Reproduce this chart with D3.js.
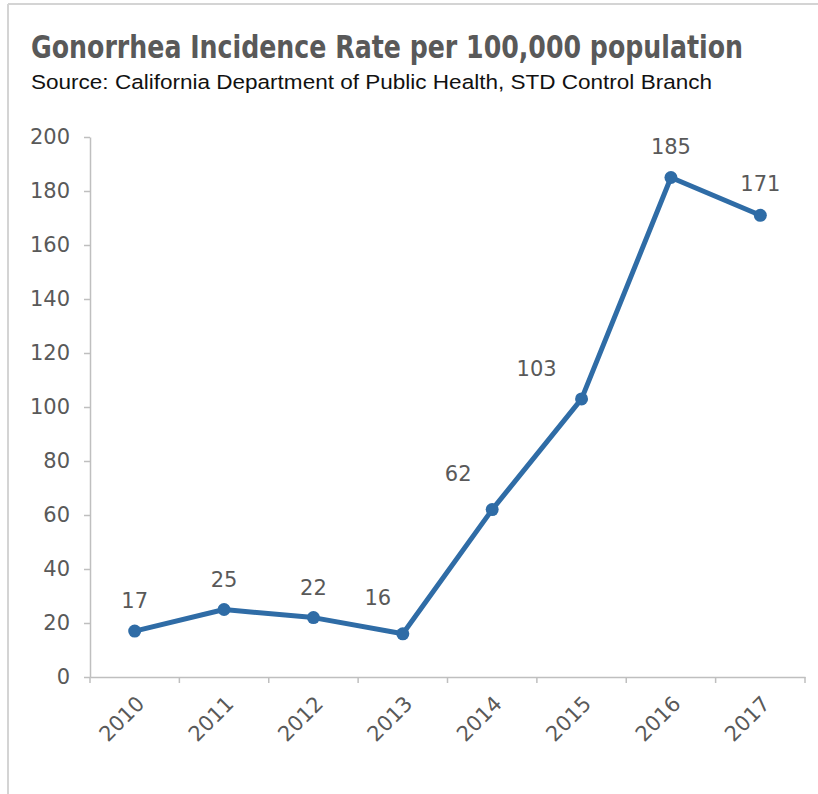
<!DOCTYPE html>
<html lang="en">
  <head>
    <meta charset="utf-8">
    <script type="text/javascript" src="https://d3js.org/d3.v7.min.js"></script>
    <style>
      body { margin: 0; background: white; }
    </style>
  </head>
  <body>
    <script type="text/javascript">

    // Data
    var years = ["2010", "2011", "2012", "2013", "2014", "2015", "2016", "2017"];
    var rates = [17, 25, 22, 16, 62, 103, 185, 171];
    var yTicks = [0, 20, 40, 60, 80, 100, 120, 140, 160, 180, 200];

    // Label nudges (Excel placed some labels to the left of the line)
    var labelDx = [0, 0, 0, -25, -34, -45, 0, 0];
    var labelDy = [-23, -23, -23, -29, -29, -23, -24, -24];

    var svgW = 818, svgH = 794;
    var plotL = 90, plotR = 805, plotT = 137, plotB = 677;
    var axisColor = "#bfbfbf";
    var textColor = "#595959";
    var lineColor = "#2f6ca6";
    var numFont = "'DejaVu Sans', sans-serif";

    var svg = d3.select("body")
                .append("svg")
                  .attr("width", svgW)
                  .attr("height", svgH);

    // Outer frame (left and top only)
    svg.append("line").attr("x1", 8).attr("x2", 8).attr("y1", 4).attr("y2", svgH)
        .attr("stroke", "#d4d4d4").attr("stroke-width", 2);
    svg.append("line").attr("x1", 8).attr("x2", svgW).attr("y1", 4).attr("y2", 4)
        .attr("stroke", "#d4d4d4").attr("stroke-width", 2);

    // Title and source
    svg.append("text")
        .attr("x", 0)
        .attr("y", 0)
        .attr("transform", "translate(31,58) scale(1,1.15)")
        .attr("textLength", 712)
        .attr("lengthAdjust", "spacingAndGlyphs")
        .style("font-family", "'Liberation Sans Narrow', 'DejaVu Sans Condensed', sans-serif")
        .style("font-weight", "bold")
        .style("font-size", "28px")
        .attr("fill", textColor)
        .text("Gonorrhea Incidence Rate per 100,000 population");

    svg.append("text")
        .attr("x", 31)
        .attr("y", 89)
        .attr("textLength", 681)
        .attr("lengthAdjust", "spacingAndGlyphs")
        .style("font-family", "'Liberation Sans', Arial, sans-serif")
        .style("font-size", "20.5px")
        .attr("fill", "#111")
        .text("Source: California Department of Public Health, STD Control Branch");

    // Scales
    var xScale = d3.scaleBand()
                    .domain(years)
                    .range([plotL, plotR]);

    var yScale = d3.scaleLinear()
                    .domain([0, 200])
                    .range([plotB, plotT]);

    // Y axis
    var yAxis = d3.axisLeft(yScale)
                  .tickValues(yTicks)
                  .tickSize(6)
                  .tickPadding(14)
                  .tickSizeOuter(0);
    var gy = svg.append("g")
                .attr("transform", "translate(" + plotL + ",0)")
                .call(yAxis);
    gy.select(".domain").attr("stroke", axisColor).attr("stroke-width", 1.5);
    gy.selectAll(".tick line").attr("stroke", axisColor).attr("stroke-width", 1.5);
    gy.selectAll(".tick text")
        .attr("fill", textColor)
        .style("font-family", numFont)
        .style("font-size", "21px");

    // X axis: labels at band centres, tick marks at band edges
    var xAxis = d3.axisBottom(xScale).tickSize(0).tickSizeOuter(0);
    var gx = svg.append("g")
                .attr("transform", "translate(0," + plotB + ")")
                .call(xAxis);
    gx.select(".domain").attr("stroke", axisColor).attr("stroke-width", 1.5);
    gx.selectAll(".tick text")
        .attr("fill", textColor)
        .style("font-family", numFont)
        .style("font-size", "21px")
        .attr("text-anchor", "end")
        .attr("x", 0)
        .attr("y", 0)
        .attr("dy", "0")
        .attr("transform", "translate(11,28) rotate(-45)");

    var edges = years.map(function(d) { return xScale(d); }).concat([plotR]);
    gx.selectAll(".edge")
        .data(edges)
        .enter()
        .append("line")
          .attr("class", "edge")
          .attr("x1", function(d) { return d; })
          .attr("x2", function(d) { return d; })
          .attr("y1", 0)
          .attr("y2", 6)
          .attr("stroke", axisColor)
          .attr("stroke-width", 1.5);

    // Line and markers
    var dataset = years.map(function(y, i) { return {year: y, rate: rates[i], i: i}; });
    var cx = function(d) { return xScale(d.year) + xScale.bandwidth() / 2; };

    var line = d3.line()
                 .x(cx)
                 .y(function(d) { return yScale(d.rate); });

    svg.append("path")
        .datum(dataset)
        .attr("d", line)
        .attr("fill", "none")
        .attr("stroke", lineColor)
        .attr("stroke-width", 5)
        .attr("stroke-linejoin", "round");

    svg.selectAll(".dot")
        .data(dataset)
        .enter()
        .append("circle")
          .attr("class", "dot")
          .attr("cx", cx)
          .attr("cy", function(d) { return yScale(d.rate); })
          .attr("r", 6.5)
          .attr("fill", lineColor);

    // Data labels
    svg.selectAll(".label")
        .data(dataset)
        .enter()
        .append("text")
          .attr("class", "label")
          .attr("x", function(d) { return cx(d) + labelDx[d.i]; })
          .attr("y", function(d) { return yScale(d.rate) + labelDy[d.i]; })
          .attr("text-anchor", "middle")
          .attr("fill", textColor)
          .style("font-family", numFont)
          .style("font-size", "21px")
          .text(function(d) { return d.rate; });

    </script>
  </body>
</html>
